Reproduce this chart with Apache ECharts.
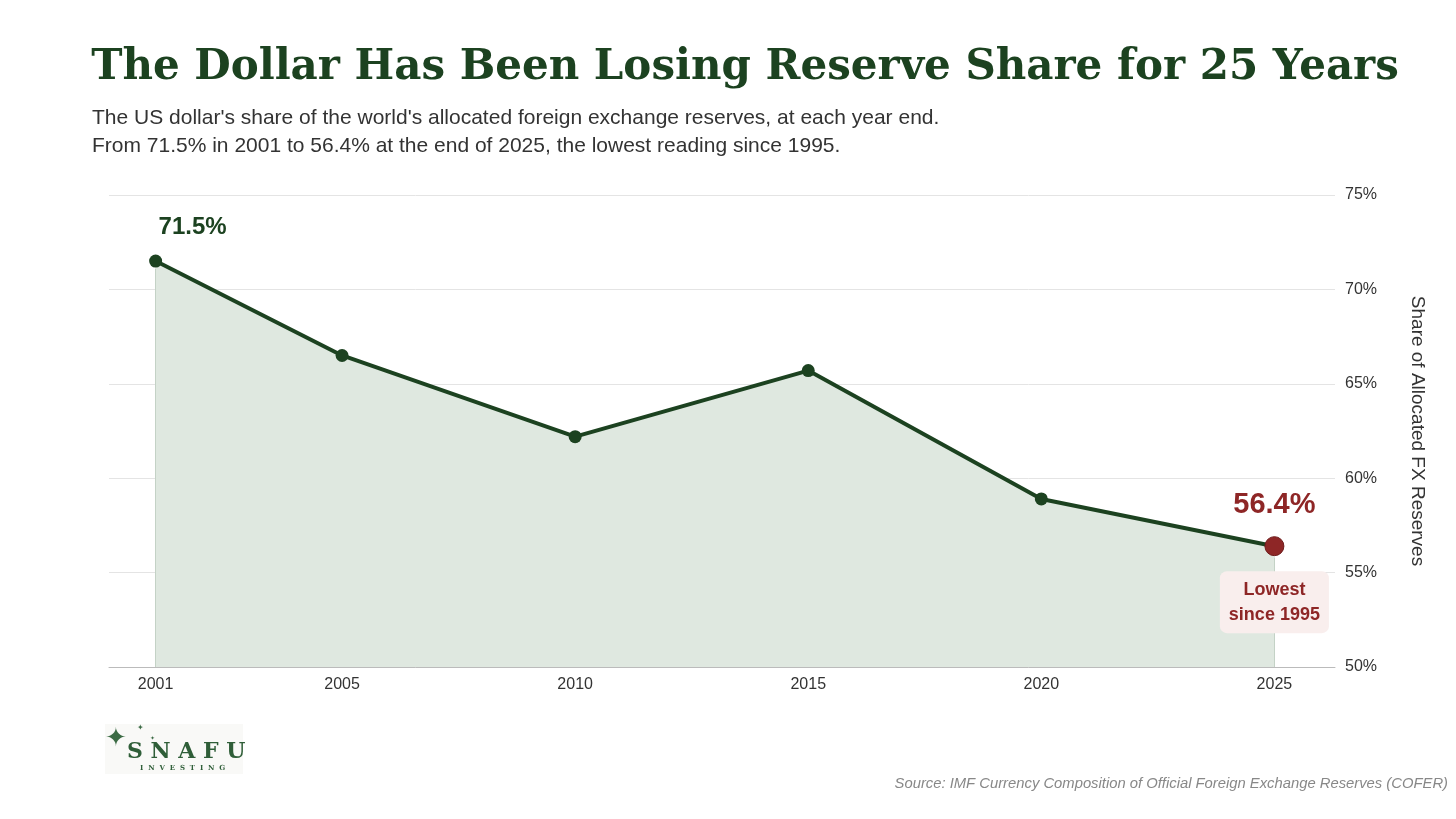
<!DOCTYPE html>
<html>
<head>
<meta charset="utf-8">
<title>The Dollar Has Been Losing Reserve Share for 25 Years</title>
<script src="https://cdn.jsdelivr.net/npm/echarts@6/dist/echarts.min.js"></script>
<style>
  html, body { margin: 0; padding: 0; background: #fff; }
  #chart { width: 1456px; height: 819px; }
</style>
</head>
<body>
<div id="chart"></div>
<script>
// data
var years = [2001, 2005, 2010, 2015, 2020, 2025];
var usdShare = [71.5, 66.5, 62.2, 65.7, 58.9, 56.4];
var yTicks = [50, 55, 60, 65, 70, 75];

var green = '#1c4220';
var red = '#8e2626';

var chart = echarts.init(document.getElementById('chart'));

function pct(p) { return p.value[1].toFixed(1) + '%'; }

// first and last points get their own labels
var points = years.map(function (y, i) {
    var item = { value: [y, usdShare[i]] };
    if (i === 0) {
        item.label = {
            show: true, position: 'top', offset: [37, -10],
            fontSize: 24, fontWeight: 'bold', color: green, formatter: pct
        };
    }
    if (i === years.length - 1) {
        item.symbolSize = 19;
        item.itemStyle = { color: red, borderColor: '#6e1c1c', borderWidth: 1 };
        item.label = {
            show: true, position: 'top', offset: [0, -12],
            fontSize: 29, fontWeight: 'bold', color: red, formatter: pct
        };
    }
    return item;
});

var option = {
    backgroundColor: '#fff',
    textStyle: { fontFamily: 'Liberation Sans, Arial, sans-serif' },
    title: [{
        text: 'The Dollar Has Been Losing Reserve Share for 25 Years',
        left: 745, top: 47, textAlign: 'center', padding: 0,
        textStyle: { fontFamily: 'DejaVu Serif, serif', fontWeight: 'bold', fontSize: 42, color: green }
    }, {
        text: "The US dollar's share of the world's allocated foreign exchange reserves, at each year end.\nFrom 71.5% in 2001 to 56.4% at the end of 2025, the lowest reading since 1995.",
        left: 92, top: 104, padding: 0,
        textStyle: { fontSize: 21, fontWeight: 'normal', color: '#333', lineHeight: 28 }
    }],
    grid: { left: 109, right: 121, top: 195, bottom: 152 },
    xAxis: {
        type: 'value', min: 2000, max: 2026.3,
        axisLine: { show: true, lineStyle: { color: '#bbb' } },
        axisTick: { show: false },
        splitLine: { show: false },
        axisLabel: {
            customValues: years, fontSize: 16, color: '#333', margin: 10,
            formatter: function (v) { return String(v); }
        }
    },
    yAxis: {
        type: 'value', position: 'right', min: 50, max: 75, interval: 5,
        name: 'Share of Allocated FX Reserves',
        nameLocation: 'middle', nameRotate: -90, nameGap: 73,
        nameTextStyle: { fontSize: 19, color: '#333' },
        axisLine: { show: false },
        axisTick: { show: false },
        splitLine: { lineStyle: { color: '#e4e4e4' } },
        axisLabel: {
            fontSize: 16, color: '#333', margin: 10, padding: [2, 0, 0, 0],
            formatter: function (v) { return yTicks.indexOf(v) >= 0 ? v + '%' : ''; }
        }
    },
    series: [{
        type: 'line',
        data: points,
        symbol: 'circle',
        symbolSize: 13,
        lineStyle: { color: green, width: 4 },
        itemStyle: { color: green },
        areaStyle: { color: '#dfe8e0', opacity: 1 },
        z: 3,
        markLine: {
            silent: true, symbol: 'none', label: { show: false },
            lineStyle: { color: '#c4d2c6', type: 'solid', width: 1 },
            data: [
                [{ coord: [years[0], 50] }, { coord: [years[0], usdShare[0] - 0.4] }],
                [{ coord: [years[5], 50] }, { coord: [years[5], usdShare[5] - 0.6] }]
            ]
        },
        markPoint: {
            silent: true, symbol: 'rect', symbolSize: 0,
            data: [{
                coord: [years[5], usdShare[5]],
                label: {
                    show: true, offset: [0, 56],
                    formatter: 'Lowest\nsince 1995',
                    fontSize: 18, fontWeight: 'bold', color: red, lineHeight: 25,
                    backgroundColor: '#f9eeed', borderRadius: 7, padding: [6, 9, 6, 9]
                }
            }]
        }
    }],
    graphic: [
        { type: 'rect', left: 105, top: 724, shape: { width: 138, height: 50 }, style: { fill: '#f9f9f7' }, z: 0 },
        { type: 'text', left: 105, top: 726, style: { text: '\u2726', fontSize: 26, fill: '#3c6b45' } },
        { type: 'text', left: 137, top: 724, style: { text: '\u2726', fontSize: 8, fill: '#3c6b45' } },
        { type: 'text', left: 150, top: 735, style: { text: '\u2726', fontSize: 6, fill: '#3c6b45' } },
        { type: 'text', left: 127, top: 741, style: { text: 'S N A F U', fontSize: 22, fontWeight: 'bold', fontFamily: 'DejaVu Serif, serif', fill: '#2f5e38' } },
        { type: 'text', left: 140, top: 765, style: { text: 'I  N  V  E  S  T  I  N  G', fontSize: 7, fontWeight: 'bold', fontFamily: 'DejaVu Serif, serif', fill: '#2f5e38' } },
        {
            type: 'text', right: 8, top: 776,
            style: {
                text: 'Source: IMF Currency Composition of Official Foreign Exchange Reserves (COFER)',
                fontSize: 14.8, fontStyle: 'italic', fill: '#888',
                fontFamily: 'Liberation Sans, Arial, sans-serif'
            }
        }
    ]
};

chart.setOption(option);
</script>
</body>
</html>
